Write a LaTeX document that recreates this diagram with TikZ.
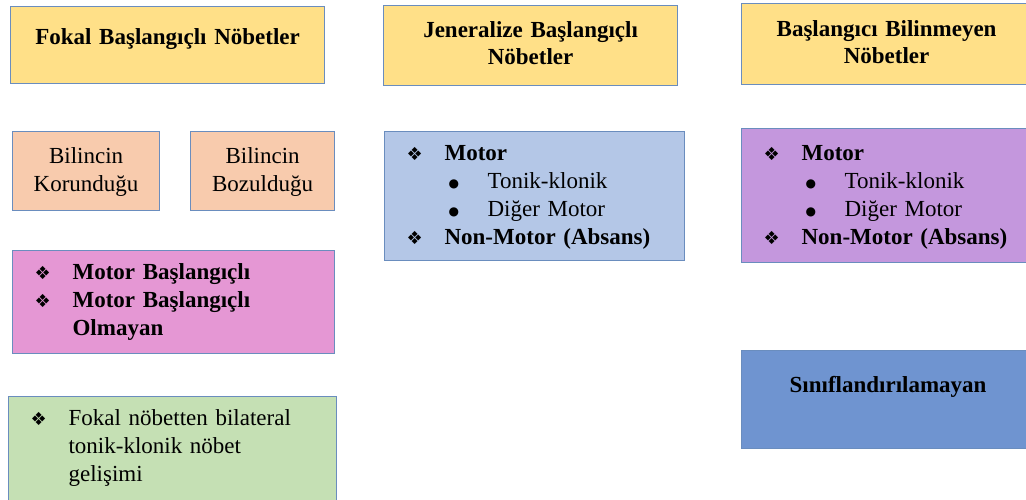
\documentclass[tikz,border=0pt]{standalone}
\usepackage{fontspec}
\setmainfont{Liberation Serif}
\newfontfamily\symfont{DejaVu Sans}
\usetikzlibrary{positioning}

\definecolor{boxline}{HTML}{6A8DBE}
\definecolor{headyellow}{HTML}{FFE088}
\definecolor{peach}{HTML}{F8CBAD}
\definecolor{orchid}{HTML}{E597D4}
\definecolor{lightblue}{HTML}{B4C7E7}
\definecolor{lilac}{HTML}{C497DD}
\definecolor{palegreen}{HTML}{C5E0B4}
\definecolor{steelblue}{HTML}{6F94D0}

\newcommand{\dia}{\hspace*{-2pt}\makebox[38pt][l]{\symfont\fontsize{18}{18}\selectfont ❖}}
\newcommand{\subdot}{\hspace*{40pt}\makebox[39pt][l]{\symfont\fontsize{12}{12}\selectfont\raisebox{1pt}{●}}}

\tikzset{
  box/.style={draw=boxline, line width=1.2pt, anchor=north west, inner xsep=24pt, inner ysep=0pt, align=left, font=\fontsize{23}{28}\selectfont},
  head/.style={box, fill=headyellow, align=center, font=\fontsize{23}{27}\selectfont\bfseries},
}

\begin{document}
\begin{tikzpicture}[x=1pt, y=-1pt]

    \useasboundingbox (0,0) rectangle (1026,499);

    \node[head, text width=266pt, text height=38pt, text depth=39pt] (Fokal) at (10,6) {Fokal Başlangıçlı Nöbetler};
    \node[head, text width=246pt, text height=32pt, text depth=48pt] (Jeneralize) at (383,5) {Jeneralize Başlangıçlı\\Nöbetler};
    \node[head, text width=242pt, text height=33pt, text depth=48pt] (Bilinmeyen) at (741,3) {Başlangıcı Bilinmeyen\\Nöbetler};

    \node[box, fill=peach, align=center, inner xsep=10pt, text width=127pt, text height=32pt, text depth=47pt] (Korunan) at (12,131) {Bilincin\\Korunduğu};
    \node[box, fill=peach, align=center, inner xsep=10pt, text width=124pt, text height=32pt, text depth=47pt] (Bozulan) at (190,131) {Bilincin\\Bozulduğu};

    \node[box, fill=orchid, font=\fontsize{23}{28}\selectfont\bfseries, text width=274pt, text height=29pt, text depth=74pt] (MotorOnset) at (12,250) {\dia Motor Başlangıçlı\\\dia Motor Başlangıçlı\\\hspace*{36pt}Olmayan};
    \node[box, fill=palegreen, text width=280pt, text height=29pt, text depth=84pt] (Bilateral) at (8,396) {\dia Fokal nöbetten bilateral\\\hspace*{36pt}tonik-klonik nöbet\\\hspace*{36pt}gelişimi};

    \node[box, fill=lightblue, text width=252pt, text height=29pt, text depth=100pt] (GenTypes) at (384,131) {\dia\textbf{Motor}\\\subdot Tonik-klonik\\\subdot Diğer Motor\\\dia\textbf{Non-Motor (Absans)}};
    \node[box, fill=lilac, text width=250pt, text height=32pt, text depth=102pt] (UnkTypes) at (741,128) {\dia\textbf{Motor}\\\subdot Tonik-klonik\\\subdot Diğer Motor\\\dia\textbf{Non-Motor (Absans)}};

    \node[box, fill=steelblue, align=center, font=\fontsize{23}{28}\selectfont\bfseries, text width=245pt, text height=42pt, text depth=56pt] (Unclassified) at (741,350) {Sınıflandırılamayan};

\end{tikzpicture}
\end{document}
